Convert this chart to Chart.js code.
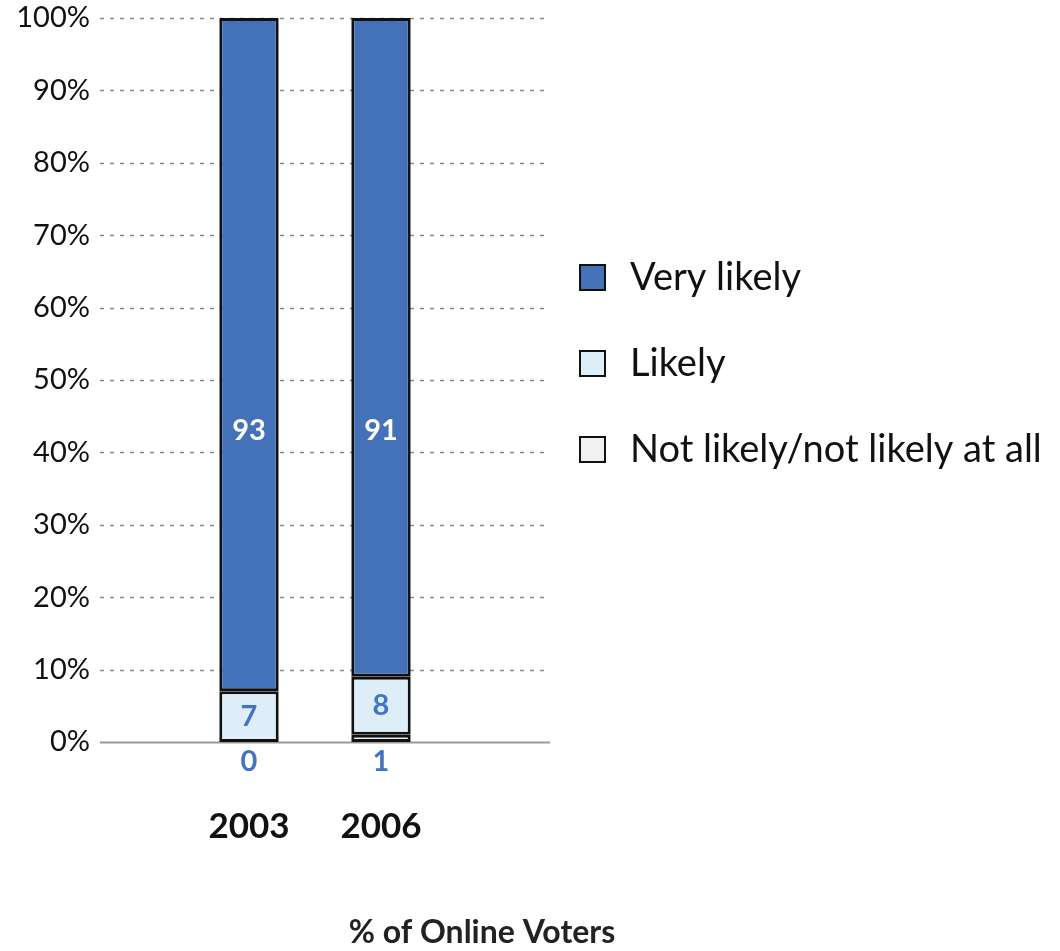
<!DOCTYPE html>
<html>
<head>
<meta charset="utf-8">
<script src="https://cdn.jsdelivr.net/npm/chart.js@4/dist/chart.umd.min.js"></script>
<style>
  body { margin: 0; background: #fff; }
</style>
</head>
<body>
<canvas id="chart" width="1060" height="951"></canvas>
<script>
// categories (last one is an empty slot so the bars sit left of the legend)
const years = ['2003', '2006', ''];
const notLikely = [0, 1, null];
const likely = [7, 8, null];
const veryLikely = [93, 91, null];
const yTicks = [0, 10, 20, 30, 40, 50, 60, 70, 80, 90, 100];

const FONT = 'Lato, "Open Sans", sans-serif';

// dashed grid, baseline, value labels, legend and bottom caption
const extras = {
  id: 'extras',
  beforeDatasetsDraw(chart) {
    const ctx = chart.ctx;
    const yScale = chart.scales.y;
    ctx.save();
    yTicks.forEach(v => {
      const py = Math.round(yScale.getPixelForValue(v)) + 0.5;
      ctx.beginPath();
      if (v === 0) {
        ctx.setLineDash([]);
        ctx.strokeStyle = '#999';
        ctx.lineWidth = 2;
      } else {
        ctx.setLineDash([4, 6]);
        ctx.strokeStyle = '#888';
        ctx.lineWidth = 1.5;
      }
      ctx.moveTo(100, py);
      ctx.lineTo(550, py);
      ctx.stroke();
    });
    ctx.restore();
  },
  afterDatasetsDraw(chart) {
    const ctx = chart.ctx;
    const yScale = chart.scales.y;
    const nl = chart.getDatasetMeta(0).data;
    const lk = chart.getDatasetMeta(1).data;
    const vl = chart.getDatasetMeta(2).data;
    ctx.save();
    ctx.textAlign = 'center';
    ctx.textBaseline = 'middle';
    ctx.font = 'bold 29px ' + FONT;
    for (let i = 0; i < 2; i++) {
      ctx.fillStyle = '#ffffff';
      ctx.fillText(String(veryLikely[i]), vl[i].x, yScale.getPixelForValue(43));
      ctx.fillStyle = '#4472C4';
      ctx.fillText(String(likely[i]), lk[i].x, (lk[i].y + lk[i].base) / 2);
      ctx.fillText(String(notLikely[i]), nl[i].x, yScale.getPixelForValue(0) + 20);
    }
    ctx.fillStyle = '#222';
    ctx.font = 'bold 32px ' + FONT;
    ctx.fillText('% of Online Voters', 482, 933);
    ctx.restore();
  },
  afterDraw(chart) {
    // legend, top series first
    const ctx = chart.ctx;
    const items = chart.data.datasets.slice().reverse();
    ctx.save();
    ctx.font = '38px ' + FONT;
    ctx.textBaseline = 'middle';
    ctx.textAlign = 'left';
    items.forEach((ds, i) => {
      const cy = 277 + i * 86;
      ctx.fillStyle = ds.backgroundColor;
      ctx.fillRect(580, cy - 12, 25, 25);
      ctx.lineWidth = 2;
      ctx.strokeStyle = '#111';
      ctx.strokeRect(580, cy - 12, 25, 25);
      ctx.fillStyle = '#111';
      ctx.fillText(ds.label, 630, cy + 1);
    });
    ctx.restore();
  }
};

const data = {
  labels: years,
  datasets: [
    {
      label: 'Not likely/not likely at all',
      data: notLikely,
      backgroundColor: '#F0F1F0',
      borderColor: '#111',
      borderWidth: 3,
      borderSkipped: false,
    },
    {
      label: 'Likely',
      data: likely,
      backgroundColor: '#DDEEF9',
      borderColor: '#111',
      borderWidth: 3,
      borderSkipped: false,
    },
    {
      label: 'Very likely',
      data: veryLikely,
      backgroundColor: '#4472B8',
      borderColor: '#111',
      borderWidth: 3,
      borderSkipped: false,
    },
  ],
};

const config = {
  type: 'bar',
  data: data,
  options: {
    responsive: false,
    animation: false,
    layout: { padding: { top: 18, left: 0, right: 481, bottom: 0 } },
    datasets: {
      bar: { barPercentage: 0.45, categoryPercentage: 1 },
    },
    scales: {
      x: {
        stacked: true,
        grid: { display: false, drawTicks: false },
        border: { display: false },
        ticks: {
          color: '#111',
          padding: 64,
          maxRotation: 0,
          font: { size: 35, weight: 'bold', family: FONT },
        },
        afterFit(scale) {
          scale.height = 209;
          scale.paddingLeft = 0;
          scale.paddingRight = 0;
        },
      },
      y: {
        stacked: true,
        min: 0,
        max: 100,
        grid: { display: false, drawTicks: false },
        border: { display: false },
        ticks: {
          stepSize: 10,
          color: '#111',
          padding: 93,
          font: { size: 29, family: FONT },
          callback: v => v + '%',
        },
        afterFit(scale) {
          scale.width = 183;
          scale.paddingTop = 0;
          scale.paddingBottom = 0;
        },
      },
    },
    plugins: {
      tooltip: { enabled: false },
      legend: { display: false },
    },
  },
  plugins: [extras],
};

new Chart(document.getElementById('chart'), config);
</script>
</body>
</html>
